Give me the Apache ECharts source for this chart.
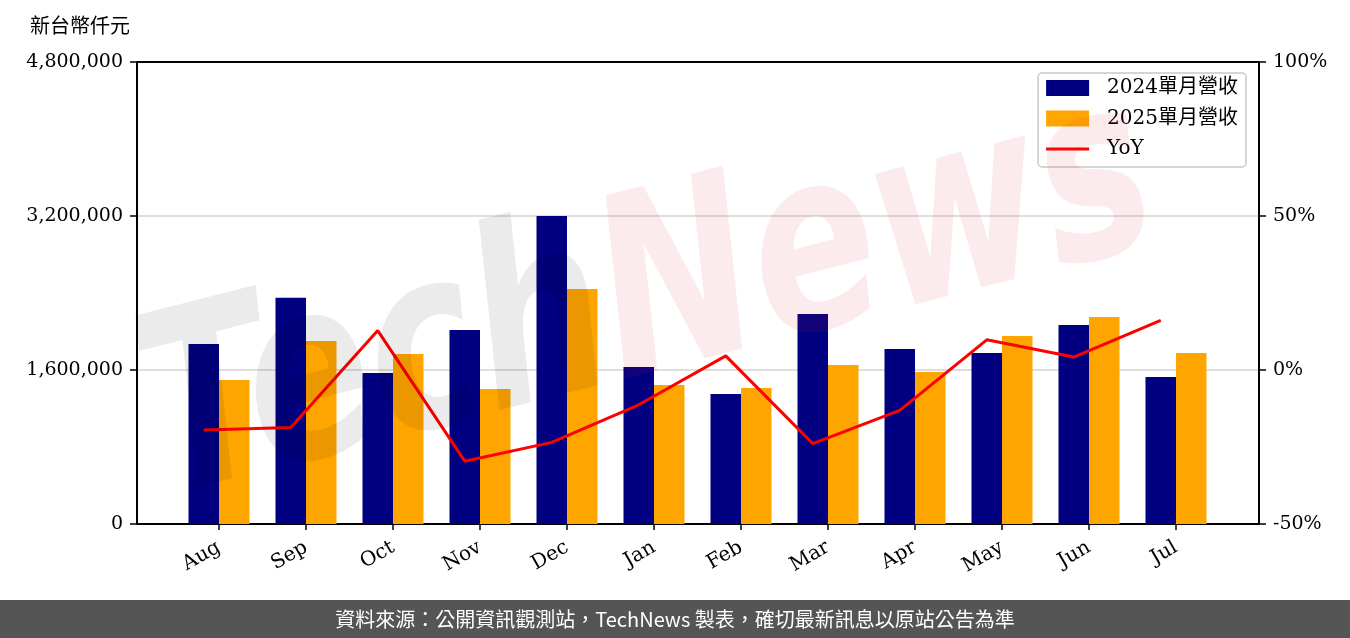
<!DOCTYPE html>
<html><head><meta charset="utf-8">
<script src="https://cdn.jsdelivr.net/npm/echarts@6/dist/echarts.min.js"></script>
<style>html,body{margin:0;padding:0;background:#fff}#c{width:1350px;height:638px}</style>
</head><body><div id="c"></div>
<script>
const months = ['Aug','Sep','Oct','Nov','Dec','Jan','Feb','Mar','Apr','May','Jun','Jul'];
const rev2024 = [1870000,2350000,1569000,2016000,3200000,1632000,1351000,2182000,1818000,1777000,2068000,1527000];
const rev2025 = [1496000,1901000,1766000,1403000,2442000,1444000,1413000,1652000,1579000,1953000,2151000,1777000];
const yoy = [-19.5,-18.7,12.8,-29.6,-23.5,-11.3,4.6,-23.9,-13.1,9.8,4.2,16.1];
const leftTicks = [0,1600000,3200000,4800000];
const rightTicks = [-50,0,50,100];

const serif = '"DejaVu Serif","Noto Sans CJK TC",serif';
const cjk = '"Noto Sans CJK TC","Noto Sans",sans-serif';
const chart = echarts.init(document.getElementById('c'));
const T = 62, H = 462;
const spine = {show:true, onZero:false, lineStyle:{color:'#000', width:2}};
chart.setOption({
  animation:false,
  grid:[
    {left:137, top:T, width:1122, height:H},
    {left:175.5, top:T, width:1044, height:H},
    {left:160.25, top:T, width:1044, height:H}
  ],
  xAxis:[
    {gridIndex:0, type:'value', min:0, max:1, position:'bottom', axisLine:spine, axisTick:{show:false}, axisLabel:{show:false}, splitLine:{show:false}},
    {gridIndex:1, type:'category', data:months,
      axisLine:{show:false},
      axisTick:{show:true, alignWithLabel:true, length:6, lineStyle:{color:'#000', width:1.5}},
      axisLabel:{rotate:30, fontSize:20, fontFamily:serif, color:'#000', margin:22}},
    {gridIndex:2, type:'category', data:months, show:false},
    {gridIndex:0, type:'value', min:0, max:1, position:'top', axisLine:spine, axisTick:{show:false}, axisLabel:{show:false}, splitLine:{show:false}}
  ],
  yAxis:[
    {gridIndex:0, type:'value', min:leftTicks[0], max:leftTicks[3], interval:leftTicks[1]-leftTicks[0], position:'left',
      axisLine:spine,
      axisTick:{show:true, length:7, lineStyle:{color:'#000', width:1.5}},
      axisLabel:{fontSize:19, fontFamily:serif, color:'#000', margin:14, formatter:v=>v.toLocaleString('en-US')},
      splitLine:{show:true, lineStyle:{color:'#d3d3d3', width:1.5}}},
    {gridIndex:0, type:'value', position:'right', min:rightTicks[0], max:rightTicks[3], interval:50,
      axisLine:spine,
      axisTick:{show:true, length:7, lineStyle:{color:'#000', width:1.5}},
      axisLabel:{fontSize:19, fontFamily:serif, color:'#000', margin:14, formatter:v=>v+'%'},
      splitLine:{show:false}},
    {gridIndex:1, type:'value', min:leftTicks[0], max:leftTicks[3], show:false},
    {gridIndex:2, type:'value', min:rightTicks[0], max:rightTicks[3], show:false}
  ],
  legend:{
    orient:'vertical', right:104, top:73,
    backgroundColor:'rgba(255,255,255,0.8)', borderColor:'#c8c8c8', borderWidth:1.5, borderRadius:4,
    padding:[5,8,8,8], itemWidth:43, itemHeight:16, itemGap:10.5,
    textStyle:{fontSize:20, fontFamily:serif, color:'#000', lineHeight:20, padding:[0,0,0,13]},
    data:[
      {name:'2024單月營收', icon:'rect'},
      {name:'2025單月營收', icon:'rect'},
      {name:'YoY', icon:'path://M0,0L0,0ZM0,6.5L43,6.5L43,9.5L0,9.5ZM43,16L43,16Z', itemStyle:{color:'#FF0000'}}
    ]
  },
  series:[
    {name:'2024單月營收', type:'bar', xAxisIndex:1, yAxisIndex:2, data:rev2024, barWidth:30.5, barGap:'0%', itemStyle:{color:'#000080'}},
    {name:'2025單月營收', type:'bar', xAxisIndex:1, yAxisIndex:2, data:rev2025, barWidth:30.5, barGap:'0%', itemStyle:{color:'#FFA500'}},
    {name:'YoY', type:'line', xAxisIndex:2, yAxisIndex:3, data:yoy, symbol:'none', lineStyle:{color:'#FF0000', width:3}, itemStyle:{color:'#FF0000'}, z:5}
  ],
  graphic:[
    {type:'text', left:30, top:15, style:{text:'新台幣仟元', fontSize:20, fontFamily:cjk, fill:'#000'}},
    {type:'text', x:650, y:305, rotation:0.25, scaleY:1.35, z:100, silent:true,
      style:{text:'{a|Tech}{b|News}', align:'center', verticalAlign:'middle',
        rich:{
          a:{fontSize:185, fontStyle:'italic', fontWeight:'bold', fontFamily:'"DejaVu Sans"', fill:'rgba(0,0,0,0.08)'},
          b:{fontSize:185, fontStyle:'italic', fontWeight:'bold', fontFamily:'"DejaVu Sans"', fill:'rgba(220,30,45,0.09)'}
        }}},
    {type:'rect', shape:{x:0, y:600, width:1350, height:38}, style:{fill:'#555555'}, z:50},
    {type:'text', x:675, y:619, z:51, style:{text:'資料來源：公開資訊觀測站，TechNews 製表，確切最新訊息以原站公告為準', fontSize:20, fontFamily:cjk, fill:'#fff', align:'center', verticalAlign:'middle'}}
  ]
});
</script></body></html>
